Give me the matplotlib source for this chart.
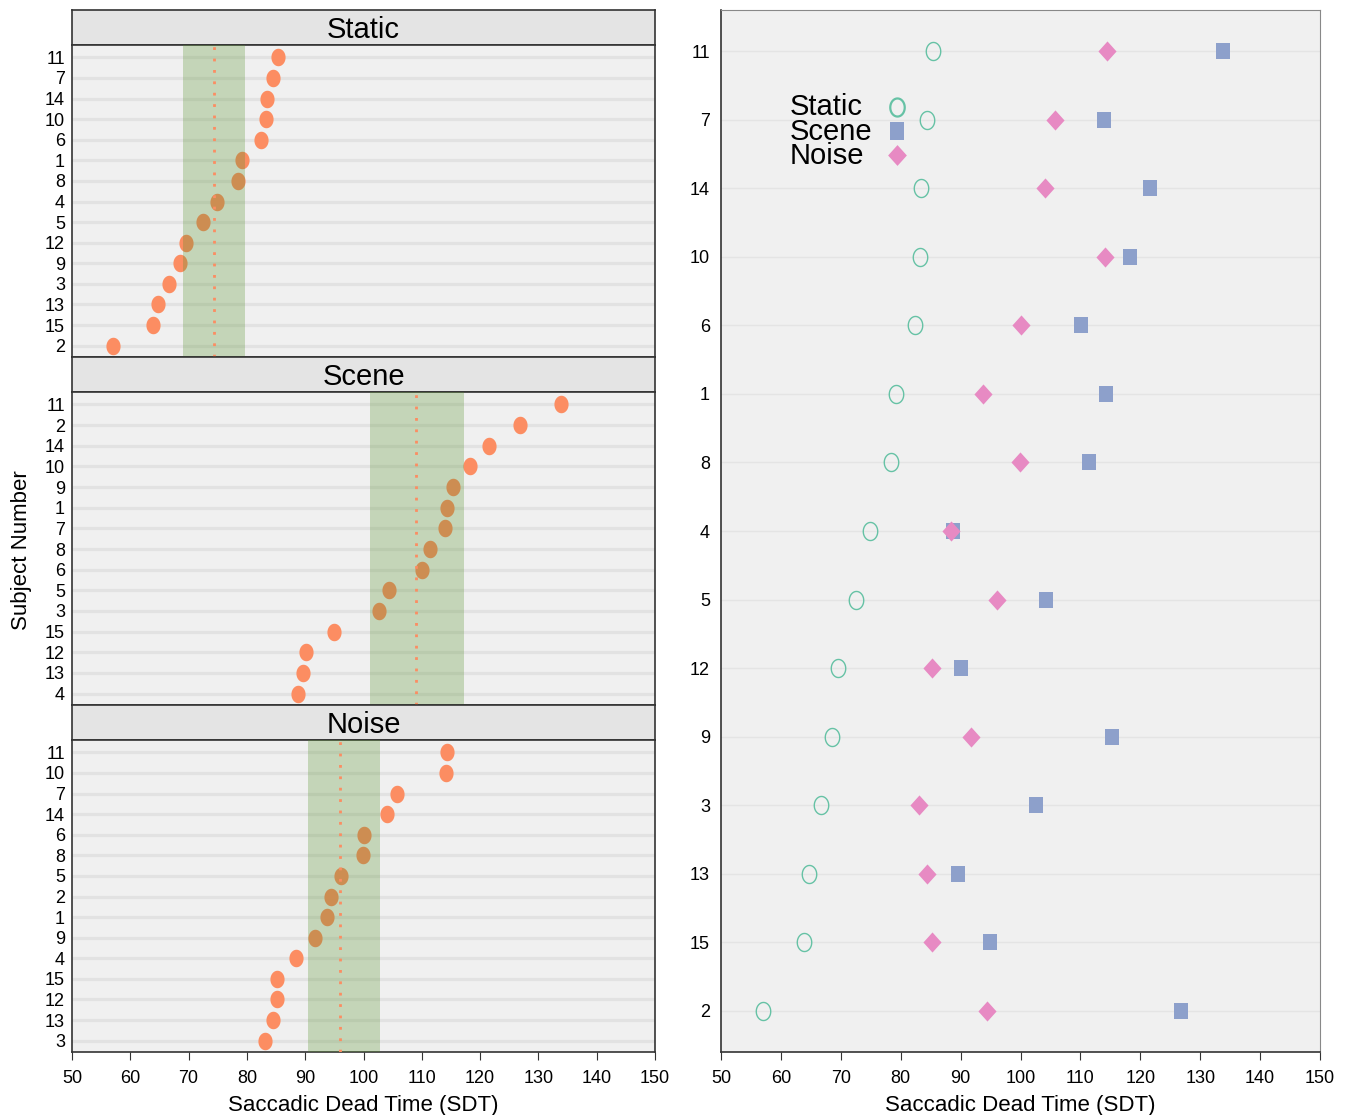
import numpy as np
import matplotlib
matplotlib.use("Agg")
import matplotlib.pyplot as plt
from matplotlib.path import Path

plt.rcParams['font.family'] = ['Liberation Sans', 'DejaVu Sans']

# --- data ---
subjects = [11, 7, 14, 10, 6, 1, 8, 4, 5, 12, 9, 3, 13, 15, 2]
static = [85.4, 84.4, 83.4, 83.2, 82.4, 79.2, 78.4, 74.9, 72.5, 69.5, 68.5, 66.7, 64.7, 63.9, 57.0]
scene = [133.8, 113.9, 121.6, 118.3, 110.1, 114.3, 111.4, 88.7, 104.3, 90.1, 115.3, 102.6, 89.6, 94.9, 126.8]
noise = [114.4, 105.8, 104.1, 114.1, 100.1, 93.7, 99.9, 88.4, 96.1, 85.2, 91.7, 83.1, 84.4, 85.2, 94.4]

conditions = ["Static", "Scene", "Noise"]
band_low = [69.0, 101.1, 90.5]
band_high = [79.6, 117.2, 102.8]

xticks = list(range(50, 151, 10))

# --- styling ---
ORANGE = "#fc8d62"
GREEN = "#66c2a5"
BLUE = "#8da0cb"
PINK = "#e78ac3"
BAND = "#55902a"
BG = "#f0f0f0"


def ellipse(rx):
    t = np.linspace(0, 2 * np.pi, 80)
    return Path(np.column_stack([rx * np.cos(t), np.sin(t)]), closed=True)


dot = ellipse(0.81)
ring = ellipse(0.80)
rect = Path([(-0.85, -1), (0.85, -1), (0.85, 1), (-0.85, 1), (-0.85, -1)], closed=True)
diamond = Path([(0, -1), (0.9, 0), (0, 1), (-0.9, 0), (0, -1)], closed=True)

W, H = 1348, 1115
fig = plt.figure(figsize=(W / 100, H / 100), dpi=100)


def frac(x0, y0, x1, y1):
    return [x0 / W, 1 - y1 / H, (x1 - x0) / W, (y1 - y0) / H]


strip_rows = [(10, 45, 357), (357, 392, 705), (705, 740, 1052)]
values = [static, scene, noise]

for i, (cond, vals) in enumerate(zip(conditions, values)):
    s0, s1, p1 = strip_rows[i]
    sax = fig.add_axes(frac(72, s0, 655, s1))
    sax.set_facecolor("#e4e4e4")
    sax.set_xticks([]); sax.set_yticks([])
    for sp in sax.spines.values():
        sp.set_color("#333333"); sp.set_linewidth(1.2)
    sax.text(0.5, 0.42, cond, ha="center", va="center", fontsize=21, transform=sax.transAxes)

    ax = fig.add_axes(frac(72, s1, 655, p1))
    ax.set_facecolor(BG)
    order = np.argsort(vals)
    ypos = np.arange(1, len(vals) + 1)
    sv = np.array(vals)[order]
    for y in ypos:
        ax.axhline(y, color="#e2e2e2", lw=2.3, zorder=1)
    ax.plot(sv, ypos, linestyle="none", marker=dot, markersize=12.6,
            color=ORANGE, markeredgewidth=0, zorder=2)
    ax.axvspan(band_low[i], band_high[i], color=BAND, alpha=0.28, lw=0, zorder=3)
    ax.axvline(np.mean(vals), color=ORANGE, lw=2, linestyle=(0, (1, 3.1)), zorder=4)
    ax.set_xlim(50, 150)
    ax.set_ylim(0.45, 15.6)
    ax.set_yticks(ypos)
    ax.set_yticklabels([str(subjects[k]) for k in order], fontsize=13)
    ax.tick_params(axis="y", length=0, pad=5)
    ax.set_xticks(xticks)
    for sp in ax.spines.values():
        sp.set_color("#333333"); sp.set_linewidth(1.2)
    if i < 2:
        ax.tick_params(axis="x", bottom=False, labelbottom=False)
    else:
        ax.tick_params(axis="x", labelsize=13, length=6, color="#333333", pad=7)
        ax.set_xlabel("Saccadic Dead Time (SDT)", fontsize=16, labelpad=6)

fig.text(22 / W, 1 - 550 / H, "Subject Number", rotation=90, ha="center", va="center", fontsize=16)

# --- right panel ---
rax = fig.add_axes(frac(721, 10, 1320, 1052))
rax.set_facecolor(BG)
order = np.argsort(static)
ypos = np.arange(1, len(static) + 1)
for y in ypos:
    rax.axhline(y, color="#e4e4e4", lw=1, zorder=1)
rax.plot(np.array(static)[order], ypos, linestyle="none", marker=ring, markersize=13,
         markerfacecolor="none", markeredgecolor=GREEN, markeredgewidth=1.0, zorder=3)
rax.plot(np.array(scene)[order], ypos, linestyle="none", marker=rect, markersize=11.6,
         color=BLUE, markeredgewidth=0, zorder=3)
rax.plot(np.array(noise)[order], ypos, linestyle="none", marker=diamond, markersize=14.5,
         color=PINK, markeredgewidth=0, zorder=4)
rax.set_xlim(50, 150)
rax.set_ylim(0.4, 15.6)
rax.set_yticks(ypos)
rax.set_yticklabels([str(subjects[k]) for k in order], fontsize=13)
rax.tick_params(axis="y", length=0, pad=8)
rax.set_xticks(xticks)
rax.tick_params(axis="x", labelsize=13, length=6, color="#333333", pad=7)
rax.set_xlabel("Saccadic Dead Time (SDT)", fontsize=16, labelpad=6)
for side in ["left", "bottom"]:
    rax.spines[side].set_color("#333333"); rax.spines[side].set_linewidth(1.2)
for side in ["top", "right"]:
    rax.spines[side].set_color("#888888"); rax.spines[side].set_linewidth(0.8)

# legend drawn as a key box: labels left, symbols in a column to the right
key_text_y = [0.8992, 0.8752, 0.8522]
key_mark_y = [0.9069, 0.8839, 0.8608]
key_styles = [
    dict(marker=ring, markersize=13, markerfacecolor="none", markeredgecolor=GREEN, markeredgewidth=1.6),
    dict(marker=rect, markersize=12.5, color=BLUE, markeredgewidth=0),
    dict(marker=diamond, markersize=15, color=PINK, markeredgewidth=0),
]
for lab, ty, my, st in zip(conditions, key_text_y, key_mark_y, key_styles):
    rax.text(0.115, ty, lab, transform=rax.transAxes, fontsize=21, ha="left", va="baseline")
    rax.plot([0.2938], [my], linestyle="none", transform=rax.transAxes, clip_on=False,
             zorder=5, **st)

fig.savefig("out.png", dpi=100)
